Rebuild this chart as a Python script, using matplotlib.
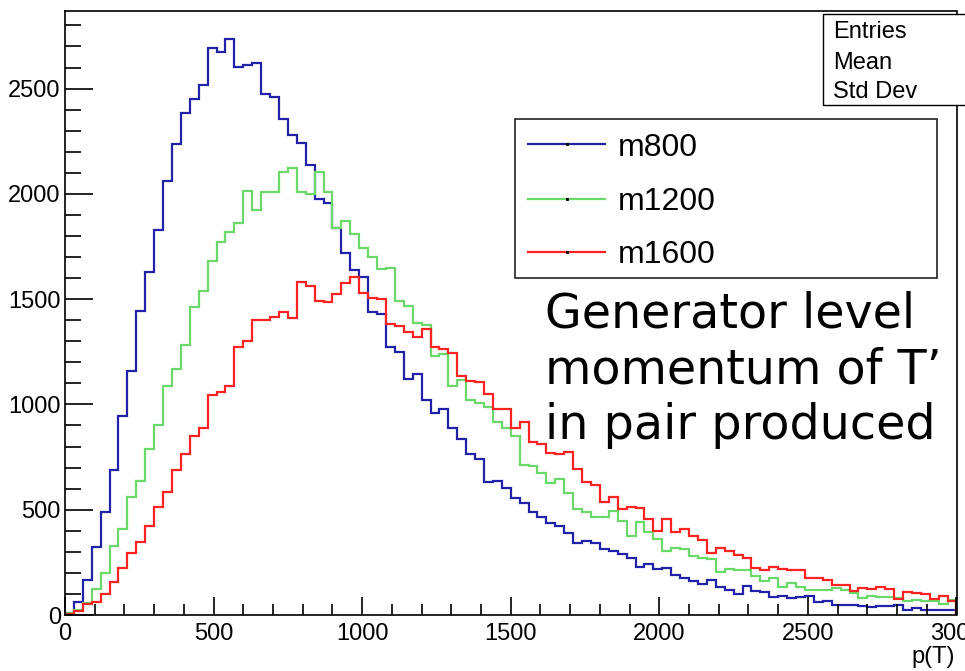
import numpy as np
import matplotlib
matplotlib.use('Agg')
import matplotlib.pyplot as plt
from matplotlib.patches import Rectangle
from matplotlib.lines import Line2D

# 100 bins of 30 between 0 and 3000
bin_edges = np.linspace(0, 3000, 101)

m800 = [8, 62, 166, 324, 490, 688, 946, 1158, 1445, 1630,
        1828, 2061, 2235, 2385, 2453, 2515, 2695, 2675, 2735, 2603,
        2611, 2622, 2474, 2461, 2356, 2279, 2240, 2137, 1978, 1955,
        1839, 1717, 1638, 1606, 1437, 1429, 1274, 1250, 1121, 1144,
        1021, 961, 978, 889, 834, 764, 741, 630, 636, 604,
        557, 530, 490, 467, 438, 423, 391, 340, 351, 340,
        313, 304, 288, 272, 229, 242, 217, 223, 190, 174,
        163, 146, 166, 134, 119, 100, 138, 115, 108, 84,
        90, 79, 87, 92, 63, 68, 47, 47, 47, 43,
        40, 45, 43, 47, 24, 33, 24, 24, 24, 24]

m1200 = [8, 22, 58, 122, 198, 328, 410, 562, 636, 788,
         902, 1089, 1168, 1282, 1461, 1538, 1681, 1772, 1817, 1864,
         2015, 1923, 2007, 2007, 2105, 2121, 2007, 1999, 2105, 2007,
         1839, 1871, 1808, 1744, 1701, 1641, 1646, 1491, 1469, 1388,
         1377, 1231, 1238, 1089, 1116, 1021, 1008, 986, 915, 886,
         850, 712, 707, 673, 628, 644, 578, 502, 490, 464,
         467, 494, 448, 375, 440, 396, 359, 305, 317, 313,
         280, 272, 264, 206, 218, 214, 214, 185, 161, 177,
         131, 150, 134, 119, 119, 119, 130, 119, 103, 82,
         90, 84, 87, 82, 68, 71, 68, 68, 52, 72]

m1600 = [3, 20, 51, 60, 100, 158, 222, 296, 348, 424,
         514, 582, 688, 764, 850, 889, 1045, 1060, 1089, 1271,
         1302, 1401, 1401, 1416, 1437, 1409, 1583, 1562, 1491, 1485,
         1523, 1575, 1606, 1527, 1507, 1500, 1380, 1372, 1342, 1318,
         1356, 1271, 1265, 1242, 1136, 1113, 1105, 1049, 978, 978,
         886, 915, 823, 810, 768, 764, 772, 692, 633, 617,
         538, 560, 502, 514, 507, 454, 400, 454, 396, 408,
         375, 356, 296, 320, 305, 285, 272, 225, 214, 229,
         217, 214, 212, 174, 177, 166, 142, 142, 115, 127,
         122, 134, 123, 75, 111, 106, 100, 75, 90, 66]

labels = ['m800', 'm1200', 'm1600']
colors = ['#2222a8', '#6ad96a', '#ff2222']
stat_names = ['Entries', 'Mean', 'Std Dev']
note_lines = ['Generator level', 'momentum of T\u2019', 'in pair produced']

W, H = 965, 671
def fx(px):
    return px / W
def fy(py):
    return 1 - py / H

plt.rcParams['font.family'] = ['Liberation Sans', 'DejaVu Sans']

fig = plt.figure(figsize=(W / 100, H / 100), dpi=100)
ax = fig.add_axes([fx(65), fy(615), 891.5 / W, (615 - 10.7) / H])

for vals, c in zip([m800, m1200, m1600], colors):
    ax.stairs(vals, bin_edges, color=c, linewidth=1.6)

ax.set_xlim(0, 3000)
ax.set_ylim(0, 2870)
ax.set_xticks(np.arange(0, 3001, 500))
ax.set_xticks(np.arange(0, 3001, 100), minor=True)
ax.set_yticks(np.arange(0, 2501, 500))
ax.set_yticks(np.arange(0, 2801, 100), minor=True)
ax.set_xticklabels([str(v) for v in range(0, 3001, 500)])

ax.tick_params(axis='y', which='major', direction='in', length=20, width=1.2,
               labelsize=17, pad=3, right=False)
ax.tick_params(axis='y', which='minor', direction='in', length=11.5, width=1.2, right=False)
ax.tick_params(axis='x', which='major', direction='in', length=13, width=1.2,
               labelsize=17, pad=6, top=False)
ax.tick_params(axis='x', which='minor', direction='in', length=8, width=1.2, top=False)
for s in ax.spines.values():
    s.set_linewidth(1.2)

# stats box (cut at right edge, values off-canvas)
fig.add_artist(Rectangle((fx(822.7), fy(105)), fx(990) - fx(822.7), fy(14) - fy(105),
                         transform=fig.transFigure, facecolor='white',
                         edgecolor='black', linewidth=1.0, zorder=5))
for name, py in zip(stat_names, [37.5, 69.3, 98.3]):
    fig.text(fx(833), fy(py), name, fontsize=17, va='baseline', ha='left', zorder=6)

# legend
fig.add_artist(Rectangle((fx(515), fy(278.3)), fx(936.7) - fx(515), fy(119.3) - fy(278.3),
                         transform=fig.transFigure, facecolor='white',
                         edgecolor='#222222', linewidth=1.2, zorder=5))
for lab, c, py in zip(labels, colors, [144.3, 198.7, 251.7]):
    fig.add_artist(Line2D([fx(528), fx(605)], [fy(py), fy(py)], color=c, linewidth=1.6,
                          transform=fig.transFigure, zorder=6))
    fig.add_artist(Line2D([fx(566.5)], [fy(py)], marker='s', markersize=1.2, color='black',
                          linestyle='none', transform=fig.transFigure, zorder=7))
    fig.text(fx(618), fy(py), lab, fontsize=23, va='center_baseline', ha='left', zorder=6)

# annotation
for line, py in zip(note_lines, [327, 383, 439]):
    fig.text(fx(545), fy(py), line, fontsize=34.3, family='DejaVu Sans',
             va='baseline', ha='left', zorder=6)

fig.text(fx(955), fy(663), 'p(T)', fontsize=17, ha='right', va='baseline')

fig.savefig('out.png', dpi=100)
